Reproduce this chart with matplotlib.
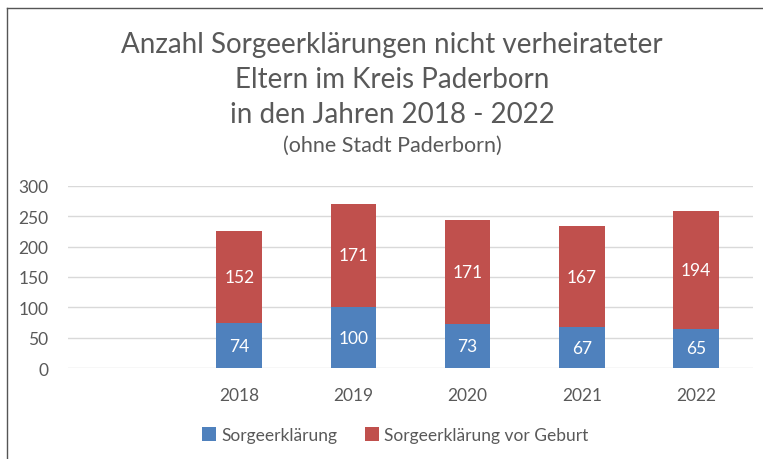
import matplotlib.pyplot as plt
import numpy as np

plt.rcParams['font.family'] = ['Lato', 'DejaVu Sans']

# data (first slot is empty in the original)
years = ['', '2018', '2019', '2020', '2021', '2022']
sorge = [0, 74, 100, 73, 67, 65]
sorge_vor_geburt = [0, 152, 171, 171, 167, 194]

blue = '#4F81BD'
red = '#C0504D'
grey = '#595959'

fig = plt.figure(figsize=(7.63, 4.6), dpi=100)
ax = fig.add_axes([68 / 763, 1 - 369 / 460, (753 - 68) / 763, (369 - 187) / 460])

x = np.arange(len(years))
b1 = ax.bar(x, sorge, width=0.4, color=blue)
b2 = ax.bar(x, sorge_vor_geburt, width=0.4, bottom=sorge, color=red)

for i in range(1, len(years)):
    ax.text(x[i], sorge[i] / 2, str(sorge[i]), ha='center', va='center',
            color='white', fontsize=12.5)
    ax.text(x[i], sorge[i] + sorge_vor_geburt[i] / 2, str(sorge_vor_geburt[i]),
            ha='center', va='center', color='white', fontsize=12.5)

ax.set_xlim(-0.5, len(years) - 0.5)
ax.set_ylim(0, 300)
ax.set_yticks(range(0, 301, 50))
ax.set_xticks(x)
ax.set_xticklabels(years)
ax.yaxis.grid(True, color='#D9D9D9', linewidth=1)
ax.set_axisbelow(True)
for s in ax.spines.values():
    s.set_visible(False)
ax.tick_params(length=0, colors=grey, labelsize=12.5)
ax.tick_params(axis='x', pad=14)
ax.tick_params(axis='y', pad=14)

cx = 392 / 763
fig.text(cx, 1 - 45 / 460, 'Anzahl Sorgeerklärungen nicht verheirateter',
         ha='center', va='center', fontsize=20, color=grey)
fig.text(cx, 1 - 80 / 460, 'Eltern im Kreis Paderborn',
         ha='center', va='center', fontsize=20, color=grey)
fig.text(cx, 1 - 115 / 460, 'in den Jahren 2018 - 2022',
         ha='center', va='center', fontsize=20, color=grey)
fig.text(cx, 1 - 146 / 460, '(ohne Stadt Paderborn)',
         ha='center', va='center', fontsize=15.5, color=grey)

fig.legend([b1, b2], ['Sorgeerklärung', 'Sorgeerklärung vor Geburt'],
           loc='center', bbox_to_anchor=(395 / 763, 1 - 436 / 460), ncol=2,
           frameon=False, fontsize=12.5, labelcolor=grey, handlelength=0.8,
           handleheight=0.8, columnspacing=1.6, handletextpad=0.3)

# frame lines of the screenshot
fig.add_artist(plt.Line2D([7 / 763, 1], [1 - 9 / 460] * 2, color='#555555', lw=1))
fig.add_artist(plt.Line2D([7 / 763] * 2, [0, 1 - 9 / 460], color='#555555', lw=1))

fig.savefig('out.png', dpi=100)
